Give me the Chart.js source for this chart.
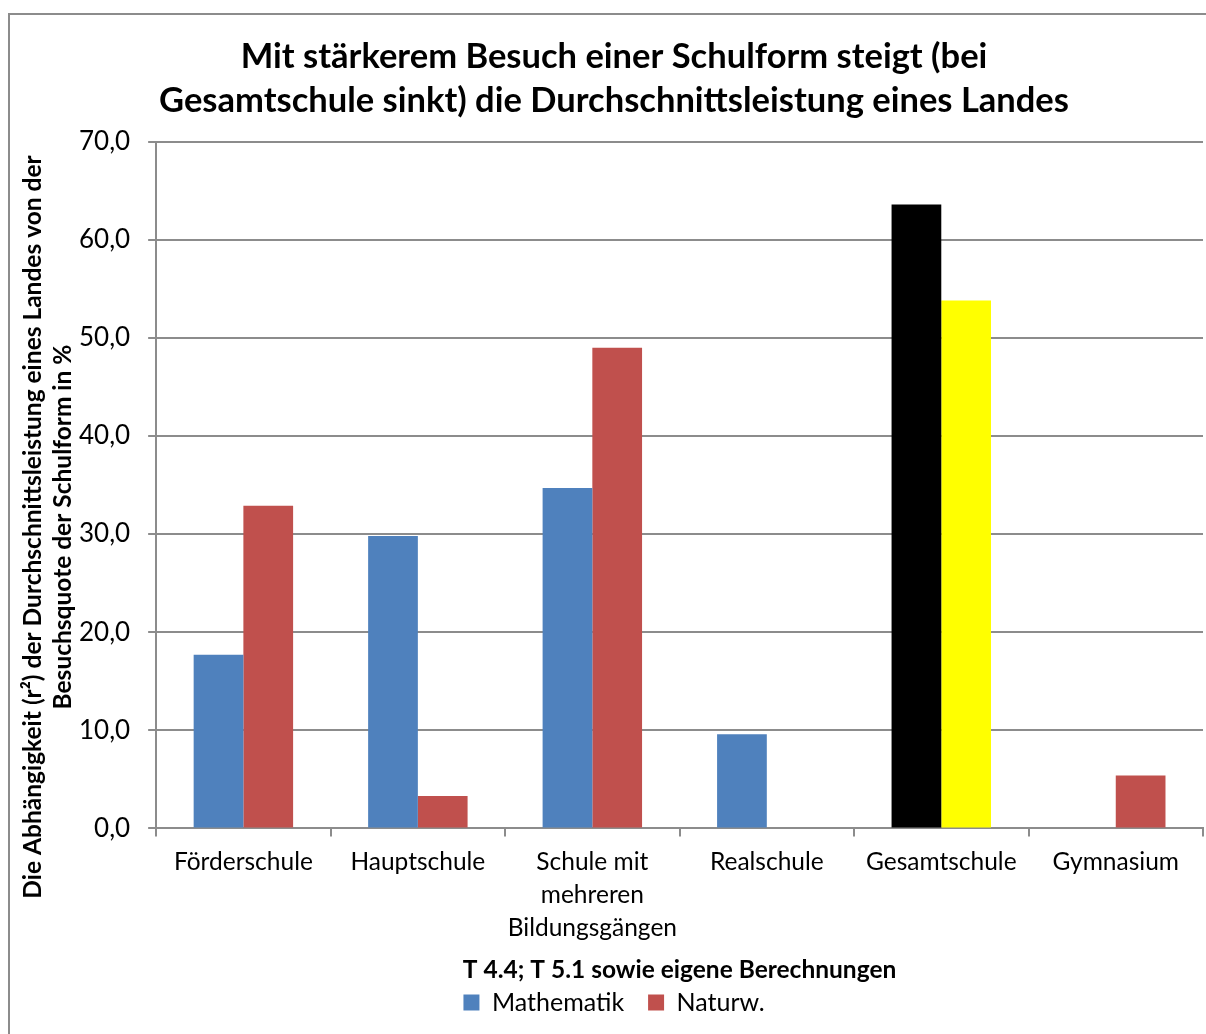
<!DOCTYPE html>
<html lang="de">
<head>
  <meta charset="UTF-8" />
  <title>Schulform und Durchschnittsleistung</title>
  <style>
    body {
      margin: 0;
      background: #fff;
      overflow: hidden;
    }
    .frame {
      position: absolute;
      left: 8px;
      top: 13px;
      width: 1300px;
      height: 1100px;
      border: 2px solid #8c8c8c;
    }
    .chart-box {
      position: absolute;
      left: 0;
      top: 0;
      width: 1206px;
      height: 1034px;
    }
  </style>
</head>
<body>
  <div class="frame"></div>
  <div class="chart-box">
    <canvas id="chart"></canvas>
  </div>

  <script src="https://cdn.jsdelivr.net/npm/chart.js"></script>
  <script>
    const categories = [
      'Förderschule',
      'Hauptschule',
      ['Schule mit', 'mehreren', 'Bildungsgängen'],
      'Realschule',
      'Gesamtschule',
      'Gymnasium'
    ];
    const mathValues = [17.7, 29.8, 34.7, 9.6, 63.6, null];
    const scienceValues = [32.9, 3.3, 49.0, null, 53.8, 5.4];
    const mathColors = ['#4F81BD', '#4F81BD', '#4F81BD', '#4F81BD', '#000000', '#4F81BD'];
    const scienceColors = ['#C0504D', '#C0504D', '#C0504D', '#C0504D', '#FFFF00', '#C0504D'];
    const yTitle = [
      'Die Abhängigkeit (r²) der Durchschnittsleistung eines Landes von der',
      'Besuchsquote der Schulform in %'
    ];

    const FONT = 'Lato, Carlito, Calibri, sans-serif';

    // y-axis title, centred on the whole picture height like the original
    const yTitlePlugin = {
      id: 'yTitle',
      afterDraw(chart) {
        const ctx = chart.ctx;
        ctx.save();
        ctx.fillStyle = '#000';
        ctx.font = 'bold 24.5px ' + FONT;
        ctx.textAlign = 'center';
        ctx.textBaseline = 'middle';
        const xs = [33, 63];
        yTitle.forEach((line, i) => {
          ctx.save();
          ctx.translate(xs[i], 527);
          ctx.rotate(-Math.PI / 2);
          ctx.fillText(line, 0, 0);
          ctx.restore();
        });
        ctx.restore();
      }
    };

    new Chart(document.getElementById('chart'), {
      type: 'bar',
      data: {
        labels: categories,
        datasets: [
          {
            label: 'Mathematik',
            data: mathValues,
            backgroundColor: mathColors,
            categoryPercentage: 0.57,
            barPercentage: 1.0
          },
          {
            label: 'Naturw.',
            data: scienceValues,
            backgroundColor: scienceColors,
            categoryPercentage: 0.57,
            barPercentage: 1.0
          }
        ]
      },
      options: {
        responsive: true,
        maintainAspectRatio: false,
        animation: false,
        layout: {
          padding: { left: 25, right: 3, top: 0, bottom: 9 }
        },
        plugins: {
          title: {
            display: true,
            text: [
              'Mit stärkerem Besuch einer Schulform steigt (bei',
              'Gesamtschule sinkt) die Durchschnittsleistung eines Landes'
            ],
            color: '#000',
            font: { family: FONT, size: 34.5, weight: 'bold', lineHeight: 1.3 },
            padding: { top: 34, bottom: 18 }
          },
          legend: {
            position: 'bottom',
            labels: {
              color: '#000',
              font: { family: FONT, size: 25 },
              boxWidth: 16,
              boxHeight: 16,
              padding: 24,
              generateLabels(chart) {
                return chart.data.datasets.map((ds, i) => ({
                  text: ds.label,
                  fillStyle: i === 0 ? '#4F81BD' : '#C0504D',
                  strokeStyle: i === 0 ? '#4F81BD' : '#C0504D',
                  lineWidth: 0,
                  datasetIndex: i
                }));
              }
            }
          },
          tooltip: { enabled: false }
        },
        scales: {
          x: {
            grid: {
              display: true,
              drawOnChartArea: false,
              drawTicks: true,
              tickLength: 8,
              color: '#8c8c8c',
              lineWidth: 2
            },
            border: { color: '#8c8c8c', width: 2 },
            ticks: {
              color: '#000',
              font: { family: FONT, size: 24.5, lineHeight: 1.35 },
              maxRotation: 0,
              autoSkip: false,
              padding: 9
            },
            title: {
              display: true,
              text: 'T 4.4; T 5.1 sowie eigene Berechnungen',
              color: '#000',
              font: { family: FONT, size: 24.5, weight: 'bold' },
              padding: { top: 2, bottom: -19 }
            }
          },
          y: {
            min: 0,
            max: 70,
            afterFit(scale) {
              // room for the hand-drawn rotated title
              scale.width += 36;
            },
            ticks: {
              stepSize: 10,
              color: '#000',
              font: { family: FONT, size: 26 },
              padding: 18,
              callback: v => v.toFixed(1).replace('.', ',')
            },
            grid: {
              color: '#8c8c8c',
              lineWidth: 2,
              tickLength: 8
            },
            border: { color: '#8c8c8c', width: 2 }
          }
        }
      },
      plugins: [yTitlePlugin]
    });
  </script>
</body>
</html>
